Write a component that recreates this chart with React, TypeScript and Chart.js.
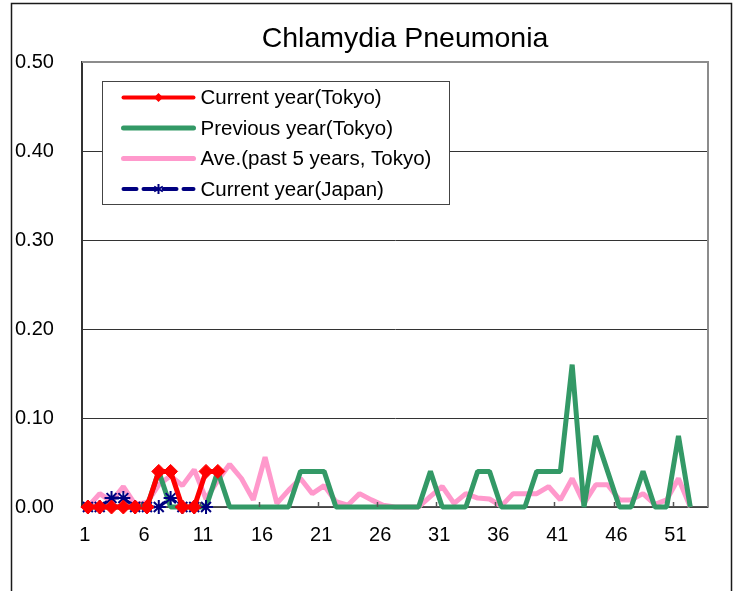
import React, { useEffect, useRef } from 'react';
import { Chart, registerables } from 'chart.js';

Chart.register(...registerables);

const TITLE = 'Chlamydia Pneumonia';

const WEEKS = [
  '1', '2', '3', '4', '5', '6', '7', '8', '9', '10',
  '11', '12', '13', '14', '15', '16', '17', '18', '19', '20',
  '21', '22', '23', '24', '25', '26', '27', '28', '29', '30',
  '31', '32', '33', '34', '35', '36', '37', '38', '39', '40',
  '41', '42', '43', '44', '45', '46', '47', '48', '49', '50',
  '51', '52', '53',
];

const Y_MIN = 0;
const Y_MAX = 0.5;
const Y_STEP = 0.1;

const SERIES_NAMES = [
  'Current year(Tokyo)',
  'Previous year(Tokyo)',
  'Ave.(past 5 years, Tokyo)',
  'Current year(Japan)',
];

const CURRENT_TOKYO = [0, 0, 0, 0, 0, 0, 0.04, 0.04, 0, 0, 0.04, 0.04];

const PREVIOUS_TOKYO = [
  0, 0, 0, 0, 0, 0, 0.04, 0, 0, 0,
  0, 0.04, 0, 0, 0, 0, 0, 0, 0.04, 0.04,
  0.04, 0, 0, 0, 0, 0, 0, 0, 0, 0.04,
  0, 0, 0, 0.04, 0.04, 0, 0, 0, 0.04, 0.04,
  0.04, 0.16, 0, 0.08, 0.04, 0, 0, 0.04, 0, 0,
  0.08, 0,
];

const AVERAGE_TOKYO = [
  0, 0.015, 0.006, 0.023, 0.003, 0.005, 0.025, 0.035, 0.024, 0.042,
  0.009, 0.03, 0.048, 0.032, 0.008, 0.056, 0.004, 0.019, 0.032, 0.015,
  0.024, 0.006, 0.002, 0.015, 0.008, 0.002, 0, 0, 0, 0.012,
  0.023, 0.004, 0.015, 0.01, 0.009, 0.001, 0.015, 0.015, 0.015, 0.023,
  0.008, 0.032, 0.004, 0.025, 0.025, 0.008, 0.008, 0.015, 0.003, 0.008,
  0.032, 0,
];

const CURRENT_JAPAN = [0, 0, 0.01, 0.01, 0, 0, 0, 0.01, 0, 0, 0];

const RED = '#ff0000';
const GREEN = '#339966';
const PINK = '#ff99cc';
const NAVY = '#000080';
const FONT = "'Liberation Sans', Arial, sans-serif";

const framePlugin = {
  id: 'frame',
  beforeDraw(chart: any) {
    const ctx = chart.ctx;
    ctx.save();
    ctx.fillStyle = '#ffffff';
    ctx.fillRect(0, 0, chart.width, chart.height);
    ctx.strokeStyle = '#1a1a1a';
    ctx.lineWidth = 1.5;
    ctx.strokeRect(11.5, 3.5, 720, 700);
    ctx.fillStyle = '#000';
    ctx.font = `28.5px ${FONT}`;
    ctx.textAlign = 'center';
    ctx.textBaseline = 'middle';
    const a = chart.chartArea;
    ctx.fillText(TITLE, (a.left + a.right) / 2 + 10, 39);
    ctx.restore();
  },
  afterDraw(chart: any) {
    const ctx = chart.ctx;
    const a = chart.chartArea;
    const xs = chart.scales.x;
    ctx.save();
    ctx.strokeStyle = '#8c8c8c';
    ctx.lineWidth = 2;
    ctx.beginPath();
    ctx.moveTo(a.left, a.top);
    ctx.lineTo(a.right, a.top);
    ctx.lineTo(a.right, a.bottom);
    ctx.stroke();
    const half = (xs.getPixelForValue(1) - xs.getPixelForValue(0)) / 2;
    ctx.strokeStyle = '#555';
    ctx.lineWidth = 1.5;
    for (let i = 5; i < WEEKS.length; i += 5) {
      const x = Math.round(xs.getPixelForValue(i) - half) + 0.5;
      ctx.beginPath();
      ctx.moveTo(x, a.bottom);
      ctx.lineTo(x, a.bottom - 5);
      ctx.stroke();
    }
    const lx = a.left + 20.5;
    const ly = a.top + 19.5;
    const lw = 347;
    const lh = 123;
    ctx.fillStyle = '#fff';
    ctx.fillRect(lx, ly, lw, lh);
    ctx.strokeStyle = '#444';
    ctx.lineWidth = 1;
    ctx.strokeRect(lx, ly, lw, lh);
    const styles = [
      { color: RED, width: 4, dash: [] as number[], marker: 'rectRot', r: 4.5 },
      { color: GREEN, width: 5, dash: [] as number[], marker: '', r: 0 },
      { color: PINK, width: 5, dash: [] as number[], marker: '', r: 0 },
      { color: NAVY, width: 4, dash: [13, 7], marker: 'star', r: 5 },
    ];
    SERIES_NAMES.forEach((name, i) => {
      const y = ly + 16 + i * 30.5;
      const s = styles[i];
      const x0 = lx + 21;
      const x1 = lx + 91;
      ctx.save();
      ctx.strokeStyle = s.color;
      ctx.lineWidth = s.width;
      ctx.lineCap = 'round';
      ctx.setLineDash(s.dash);
      ctx.beginPath();
      ctx.moveTo(x0, y);
      ctx.lineTo(x1, y);
      ctx.stroke();
      ctx.restore();
      const mx = (x0 + x1) / 2;
      if (s.marker === 'rectRot') {
        ctx.fillStyle = s.color;
        ctx.beginPath();
        ctx.moveTo(mx - s.r, y);
        ctx.lineTo(mx, y - s.r);
        ctx.lineTo(mx + s.r, y);
        ctx.lineTo(mx, y + s.r);
        ctx.closePath();
        ctx.fill();
      } else if (s.marker === 'star') {
        ctx.strokeStyle = s.color;
        ctx.lineWidth = 2;
        ctx.beginPath();
        for (let k = 0; k < 3; k++) {
          const ang = Math.PI / 2 + (k * Math.PI) / 3;
          ctx.moveTo(mx - Math.cos(ang) * s.r, y - Math.sin(ang) * s.r);
          ctx.lineTo(mx + Math.cos(ang) * s.r, y + Math.sin(ang) * s.r);
        }
        ctx.stroke();
      }
      ctx.fillStyle = '#000';
      ctx.font = `20.5px ${FONT}`;
      ctx.textAlign = 'left';
      ctx.textBaseline = 'middle';
      ctx.fillText(name, lx + 98, y + 1);
    });
    ctx.restore();
  },
};

export default function App() {
  const ref = useRef<HTMLCanvasElement>(null);

  useEffect(() => {
    const canvas = ref.current;
    if (!canvas) return;
    const chart = new Chart(canvas, {
      type: 'line',
      data: {
        labels: WEEKS,
        datasets: [
          {
            label: SERIES_NAMES[0],
            data: CURRENT_TOKYO,
            borderColor: RED,
            backgroundColor: RED,
            borderWidth: 5,
            pointStyle: 'rectRot',
            pointRadius: 7,
            pointBorderWidth: 1,
            pointBackgroundColor: RED,
            pointBorderColor: RED,
            tension: 0,
            clip: false,
            order: 0,
          },
          {
            label: SERIES_NAMES[1],
            data: PREVIOUS_TOKYO,
            borderColor: GREEN,
            backgroundColor: GREEN,
            borderWidth: 5,
            pointRadius: 0,
            tension: 0,
            borderJoinStyle: 'bevel',
            clip: false,
            order: 2,
          },
          {
            label: SERIES_NAMES[2],
            data: AVERAGE_TOKYO,
            borderColor: PINK,
            backgroundColor: PINK,
            borderWidth: 5,
            pointRadius: 0,
            tension: 0,
            borderJoinStyle: 'bevel',
            clip: false,
            order: 3,
          },
          {
            label: SERIES_NAMES[3],
            data: CURRENT_JAPAN,
            borderColor: NAVY,
            backgroundColor: NAVY,
            borderWidth: 3,
            borderDash: [8, 5],
            pointStyle: 'star',
            pointRadius: 7,
            pointBorderWidth: 2,
            pointBorderColor: NAVY,
            pointBackgroundColor: NAVY,
            tension: 0,
            clip: false,
            order: 1,
          },
        ],
      },
      options: {
        responsive: false,
        animation: false,
        devicePixelRatio: 1,
        events: [],
        layout: { padding: { top: 62, right: 31, left: 15, bottom: 0 } },
        plugins: {
          legend: { display: false },
          title: { display: false },
          tooltip: { enabled: false },
        },
        scales: {
          x: {
            type: 'category',
            offset: true,
            grid: { display: false, drawTicks: false, tickLength: 0, offset: true },
            border: { display: true, color: '#555', width: 1.5 },
            ticks: {
              autoSkip: false,
              maxRotation: 0,
              padding: 16,
              labelOffset: -3,
              color: '#000',
              font: { family: FONT, size: 20 },
              callback: (_v: any, i: number) => (i % 5 === 0 ? WEEKS[i] : ''),
            },
            afterFit: (s: any) => {
              s.height = 84;
            },
          },
          y: {
            min: Y_MIN,
            max: Y_MAX,
            grid: {
              color: (c: any) => (c.tick && c.tick.value >= Y_MAX - 1e-9 ? 'rgba(0,0,0,0)' : '#333'),
              lineWidth: 1,
              drawTicks: false,
              tickLength: 0,
            },
            border: { display: true, color: '#333', width: 2 },
            ticks: {
              stepSize: Y_STEP,
              crossAlign: 'far',
              padding: 0,
              color: '#000',
              font: { family: FONT, size: 20 },
              callback: (v: any) => Number(v).toFixed(2),
            },
            afterFit: (s: any) => {
              s.width = 67;
            },
          },
        },
      },
      plugins: [framePlugin],
    } as any);
    return () => chart.destroy();
  }, []);

  return (
    <div style={{ position: 'absolute', left: 0, top: 0, width: 739, height: 591, background: '#fff' }}>
      <canvas ref={ref} width={739} height={591} style={{ display: 'block', width: 739, height: 591 }} />
    </div>
  );
}
